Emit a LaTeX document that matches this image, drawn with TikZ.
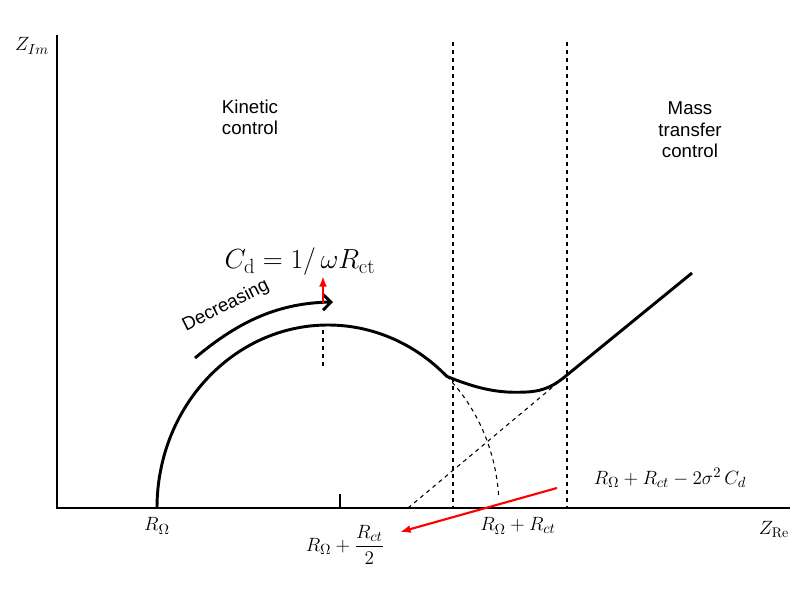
\documentclass[tikz,border=0pt]{standalone}
\usepackage{fontspec}
\setsansfont{Liberation Sans}
\usetikzlibrary{arrows.meta}
\begin{document}
\begin{tikzpicture}[x=0.75pt,y=0.75pt,
  thick line/.style={line width=2.2pt},
  dash line/.style={dashed,line width=0.8pt},
  redarrow/.style={red,line width=1.6pt,-{Latex[length=8pt,width=6pt]}},
  lab/.style={font=\sffamily\fontsize{14}{16}\selectfont,align=center},
  mlab/.style={font=\fontsize{15}{17}\selectfont}]
\useasboundingbox (0,0) rectangle (800,-591);
% axes
\coordinate (O) at (57,-508);
\coordinate (ytop) at (57,-35);
\coordinate (xend) at (790,-508);
\draw[line width=1.2pt] (ytop) -- (O) -- (xend);
\node[mlab] (zim) at (32,-46) {$Z_{Im}$};
\node[mlab] (zre) at (774,-530) {$Z_{\mathrm{Re}}$};
% dashed verticals
\draw[dash line] (453,-42) -- (453,-508);
\draw[dash line] (567,-42) -- (567,-508);
\draw[dash line] (408,-508) -- (567,-375);
\draw[dash line] (323,-330) -- (323,-368);
% tick
\draw[line width=0.8pt] (340,-508) -- (340,-494);
% curve
\draw[thick line] (157,-508) arc[start angle=180,end angle=46,x radius=171,y radius=183]
  .. controls (485,-392) and (505,-393) .. (527,-392)
  .. controls (545,-391) and (555,-385) .. (567,-375) -- (692,-273);
\draw[dash line] (328,-508) ++(46:171 and 183) arc[start angle=46,end angle=3,x radius=171,y radius=183];
% decreasing arrow
\draw[thick line,-{Straight Barb[length=6pt]}] (195,-358) .. controls (240,-320) and (280,-303) .. (333,-302);
\node[lab,rotate=27] (dec) at (226,-306) {Decreasing};
\draw[redarrow] (323,-303) -- (323,-276);
\node (cd) at (300,-262) {\fontsize{22}{24}\selectfont $C_{\mathrm d}=1/\,\omega R_{\mathrm{ct}}$};
% labels
\node[lab] (kin) at (250,-117) {Kinetic\\control};
\node[lab] (mass) at (690,-130) {Mass\\transfer\\control};
\node[mlab] (r0) at (157,-526) {$R_\Omega$};
\node[mlab] (rhalf) at (345,-545) {$R_\Omega+\displaystyle\frac{R_{ct}}{2}$};
\node[mlab] (rsum) at (518,-526) {$R_\Omega+R_{ct}$};
\node[mlab] (rwar) at (670,-478) {$R_\Omega+R_{ct}-2\sigma^2\,C_d$};
\draw[redarrow] (557,-488) -- (400,-532);
\end{tikzpicture}
\end{document}
